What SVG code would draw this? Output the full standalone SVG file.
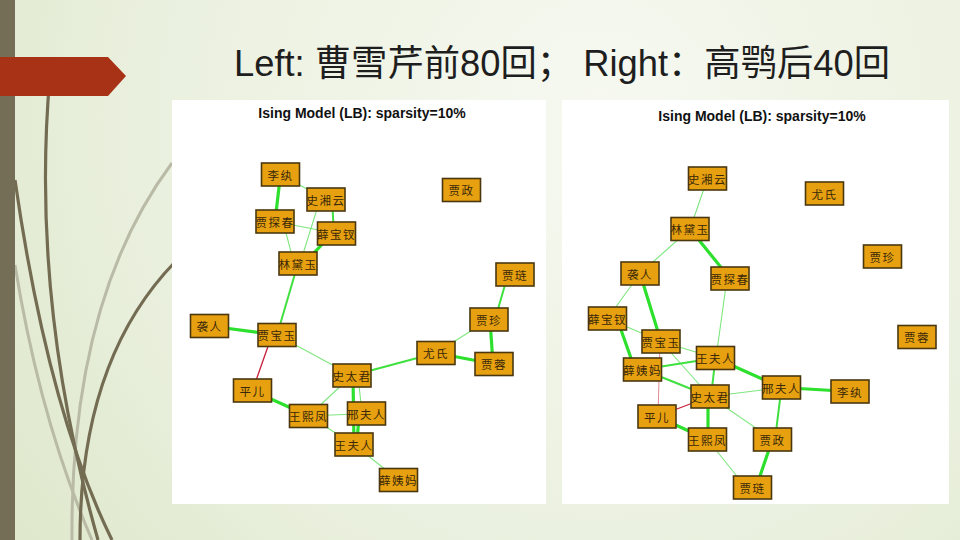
<svg xmlns="http://www.w3.org/2000/svg" width="960" height="540" viewBox="0 0 960 540">
<defs>
<radialGradient id="bg" cx="600" cy="120" r="760" gradientUnits="userSpaceOnUse">
<stop offset="0" stop-color="#f7f9f1"/>
<stop offset="0.6" stop-color="#eaf0de"/>
<stop offset="1" stop-color="#dde6c9"/>
</radialGradient>
<style>
.title{font-family:"Liberation Sans","Noto Sans CJK SC",sans-serif;font-size:36px;fill:#1e1e1e}
.ptitle{font-family:"Liberation Sans",Arial,sans-serif;font-size:14px;font-weight:bold;fill:#111;text-anchor:middle}
.node rect{fill:#e6a010;stroke:#4a3710;stroke-width:1.6}
.node text{font-family:"Noto Sans CJK SC",sans-serif;font-size:11.5px;fill:#3a2808;text-anchor:middle;dominant-baseline:central;letter-spacing:1.5px}
.thick{stroke:#2ee02e;stroke-width:3.2;fill:none}
.mid{stroke:#3fe03f;stroke-width:2;fill:none}
.thin{stroke:#7ee67e;stroke-width:1.1;fill:none}
.red{stroke:#c8203a;stroke-width:1.3;fill:none}
.pink{stroke:#e08a98;stroke-width:1;fill:none}
.curve{fill:none;stroke:#746c52;stroke-width:3.2}
.curvel{fill:none;stroke:#b9bba6;stroke-width:3}
</style>
</defs>
<rect width="960" height="540" fill="url(#bg)"/>
<g id="decor">
<path class="curvel" d="M172 163 Q70 300 72 540"/>
<path class="curvel" d="M15 265 Q40 420 92 540"/>
<path class="curve" d="M50 75 Q30 300 98 540"/>
<path class="curve" d="M15 180 Q48 410 112 540"/>
<path class="curve" d="M175 262 Q80 360 80 540"/>
<rect x="0" y="0" width="15" height="540" fill="#756e56"/>
<path d="M0 57 H108 L126 76 L108 96 H0 Z" fill="#a73216"/>
</g>
<text class="title" x="234" y="76" textLength="656" lengthAdjust="spacingAndGlyphs">Left: 曹雪芹前80回；  Right：高鹗后40回</text>
<rect x="172" y="100" width="374" height="404" fill="#ffffff"/>
<rect x="562" y="100" width="387" height="404" fill="#ffffff"/>
<text class="ptitle" x="362" y="118">Ising Model (LB): sparsity=10%</text>
<text class="ptitle" x="762" y="121">Ising Model (LB): sparsity=10%</text>
<g id="connectors">
<line class="thick" x1="280.5" y1="174.5" x2="275" y2="221.5"/>
<line class="thin" x1="280.5" y1="174.5" x2="326" y2="199.5"/>
<line class="mid" x1="332" y1="199.5" x2="334" y2="233.5"/>
<line class="thin" x1="320" y1="199.5" x2="300" y2="263.5"/>
<line class="thin" x1="275" y1="221.5" x2="336.5" y2="233.5"/>
<line class="thin" x1="283" y1="221.5" x2="294" y2="263.5"/>
<line class="thick" x1="330" y1="236" x2="304" y2="263.5"/>
<line class="mid" x1="298" y1="263.5" x2="277" y2="335"/>
<line class="thick" x1="209.5" y1="326" x2="277" y2="335"/>
<line class="red" x1="272" y1="335" x2="252.5" y2="390.5"/>
<line class="thin" x1="277" y1="335" x2="352" y2="375.5"/>
<line class="mid" x1="352" y1="375.5" x2="436" y2="353"/>
<line class="thin" x1="436" y1="353" x2="489" y2="319.5"/>
<line class="thick" x1="436" y1="353" x2="494" y2="364"/>
<line class="thick" x1="490" y1="319.5" x2="493" y2="364"/>
<line class="mid" x1="495" y1="319.5" x2="508" y2="274.5"/>
<line class="thick" x1="252.5" y1="390.5" x2="308.5" y2="416"/>
<line class="thin" x1="352" y1="375.5" x2="308.5" y2="416"/>
<line class="thick" x1="353" y1="375.5" x2="354" y2="444.5"/>
<line class="thin" x1="358" y1="375.5" x2="362" y2="413.5"/>
<line class="thick" x1="359" y1="413.5" x2="357" y2="444.5"/>
<line class="thin" x1="308.5" y1="416" x2="366.5" y2="413.5"/>
<line class="thin" x1="308.5" y1="416" x2="354" y2="444.5"/>
<line class="thin" x1="354" y1="444.5" x2="398.5" y2="480"/>

<line class="thin" x1="707.5" y1="178.5" x2="690" y2="229"/>
<line class="thin" x1="690" y1="229" x2="640" y2="273.5"/>
<line class="thick" x1="690" y1="229" x2="730" y2="278.5"/>
<line class="thin" x1="640" y1="273.5" x2="607.5" y2="318.5"/>
<line class="thick" x1="640" y1="273.5" x2="661" y2="341.5"/>
<line class="thin" x1="727" y1="278.5" x2="716" y2="358"/>
<line class="thin" x1="607.5" y1="318.5" x2="661" y2="341.5"/>
<line class="thick" x1="617" y1="318.5" x2="635" y2="369.5"/>
<line class="thin" x1="661" y1="341.5" x2="715.5" y2="358"/>
<line class="thin" x1="661" y1="341.5" x2="710" y2="396.5"/>
<line class="pink" x1="660" y1="341.5" x2="658" y2="416.5"/>
<line class="mid" x1="642.5" y1="369.5" x2="715.5" y2="358"/>
<line class="mid" x1="642.5" y1="369.5" x2="710" y2="396.5"/>
<line class="mid" x1="715.5" y1="358" x2="711" y2="396.5"/>
<line class="thick" x1="715.5" y1="358" x2="781.5" y2="387.5"/>
<line class="thin" x1="710" y1="396.5" x2="781.5" y2="387.5"/>
<line class="red" x1="710" y1="396.5" x2="657" y2="416.5"/>
<line class="thick" x1="708" y1="396.5" x2="708" y2="439.5"/>
<line class="thin" x1="710" y1="396.5" x2="772.5" y2="439.5"/>
<line class="thick" x1="657" y1="416.5" x2="707.5" y2="439.5"/>
<line class="thick" x1="781.5" y1="387.5" x2="850" y2="391.5"/>
<line class="mid" x1="781.5" y1="387.5" x2="775" y2="439.5"/>
<line class="thin" x1="707.5" y1="439.5" x2="746" y2="487.5"/>
<line class="thick" x1="772.5" y1="439.5" x2="756" y2="487.5"/>
</g>
<g id="L_lw" class="node" transform="translate(280.5 174.5)"><rect x="-19" y="-11.5" width="38" height="23"/><text>李纨</text></g>
<g id="L_sxy" class="node" transform="translate(326 199.5)"><rect x="-19" y="-11.5" width="38" height="23"/><text>史湘云</text></g>
<g id="L_jz" class="node" transform="translate(461.5 190)"><rect x="-19" y="-11.5" width="38" height="23"/><text>贾政</text></g>
<g id="L_jtc" class="node" transform="translate(275 221.5)"><rect x="-19" y="-11.5" width="38" height="23"/><text>贾探春</text></g>
<g id="L_xbc" class="node" transform="translate(336.5 233.5)"><rect x="-19" y="-11.5" width="38" height="23"/><text>薛宝钗</text></g>
<g id="L_ldy" class="node" transform="translate(298 263.5)"><rect x="-19" y="-11.5" width="38" height="23"/><text>林黛玉</text></g>
<g id="L_jl" class="node" transform="translate(515 274.5)"><rect x="-19" y="-11.5" width="38" height="23"/><text>贾琏</text></g>
<g id="L_jzh" class="node" transform="translate(489 319.5)"><rect x="-19" y="-11.5" width="38" height="23"/><text>贾珍</text></g>
<g id="L_xr" class="node" transform="translate(209.5 326)"><rect x="-19" y="-11.5" width="38" height="23"/><text>袭人</text></g>
<g id="L_jby" class="node" transform="translate(277 335)"><rect x="-19" y="-11.5" width="38" height="23"/><text>贾宝玉</text></g>
<g id="L_ys" class="node" transform="translate(436 353)"><rect x="-19" y="-11.5" width="38" height="23"/><text>尤氏</text></g>
<g id="L_jr" class="node" transform="translate(494 364)"><rect x="-19" y="-11.5" width="38" height="23"/><text>贾蓉</text></g>
<g id="L_stj" class="node" transform="translate(352 375.5)"><rect x="-19" y="-11.5" width="38" height="23"/><text>史太君</text></g>
<g id="L_pe" class="node" transform="translate(252.5 390.5)"><rect x="-19" y="-11.5" width="38" height="23"/><text>平儿</text></g>
<g id="L_wxf" class="node" transform="translate(308.5 416)"><rect x="-19" y="-11.5" width="38" height="23"/><text>王熙凤</text></g>
<g id="L_xfr" class="node" transform="translate(366.5 413.5)"><rect x="-19" y="-11.5" width="38" height="23"/><text>邢夫人</text></g>
<g id="L_wfr" class="node" transform="translate(354 444.5)"><rect x="-19" y="-11.5" width="38" height="23"/><text>王夫人</text></g>
<g id="L_xym" class="node" transform="translate(398.5 480)"><rect x="-19" y="-11.5" width="38" height="23"/><text>薛姨妈</text></g>

<g id="R_sxy" class="node" transform="translate(707.5 178.5)"><rect x="-19" y="-11.5" width="38" height="23"/><text>史湘云</text></g>
<g id="R_ys" class="node" transform="translate(824.5 193.5)"><rect x="-19" y="-11.5" width="38" height="23"/><text>尤氏</text></g>
<g id="R_ldy" class="node" transform="translate(690 229)"><rect x="-19" y="-11.5" width="38" height="23"/><text>林黛玉</text></g>
<g id="R_jzh" class="node" transform="translate(882.5 256.5)"><rect x="-19" y="-11.5" width="38" height="23"/><text>贾珍</text></g>
<g id="R_xr" class="node" transform="translate(640 273.5)"><rect x="-19" y="-11.5" width="38" height="23"/><text>袭人</text></g>
<g id="R_jtc" class="node" transform="translate(730 278.5)"><rect x="-19" y="-11.5" width="38" height="23"/><text>贾探春</text></g>
<g id="R_xbc" class="node" transform="translate(607.5 318.5)"><rect x="-19" y="-11.5" width="38" height="23"/><text>薛宝钗</text></g>
<g id="R_jr" class="node" transform="translate(917 337)"><rect x="-19" y="-11.5" width="38" height="23"/><text>贾蓉</text></g>
<g id="R_jby" class="node" transform="translate(661 341.5)"><rect x="-19" y="-11.5" width="38" height="23"/><text>贾宝玉</text></g>
<g id="R_wfr" class="node" transform="translate(715.5 358)"><rect x="-19" y="-11.5" width="38" height="23"/><text>王夫人</text></g>
<g id="R_xym" class="node" transform="translate(642.5 369.5)"><rect x="-19" y="-11.5" width="38" height="23"/><text>薛姨妈</text></g>
<g id="R_xfr" class="node" transform="translate(781.5 387.5)"><rect x="-19" y="-11.5" width="38" height="23"/><text>邢夫人</text></g>
<g id="R_lw" class="node" transform="translate(850 391.5)"><rect x="-19" y="-11.5" width="38" height="23"/><text>李纨</text></g>
<g id="R_stj" class="node" transform="translate(710 396.5)"><rect x="-19" y="-11.5" width="38" height="23"/><text>史太君</text></g>
<g id="R_pe" class="node" transform="translate(657 416.5)"><rect x="-19" y="-11.5" width="38" height="23"/><text>平儿</text></g>
<g id="R_wxf" class="node" transform="translate(707.5 439.5)"><rect x="-19" y="-11.5" width="38" height="23"/><text>王熙凤</text></g>
<g id="R_jz" class="node" transform="translate(772.5 439.5)"><rect x="-19" y="-11.5" width="38" height="23"/><text>贾政</text></g>
<g id="R_jl" class="node" transform="translate(752.5 487.5)"><rect x="-19" y="-11.5" width="38" height="23"/><text>贾琏</text></g>
</svg>
